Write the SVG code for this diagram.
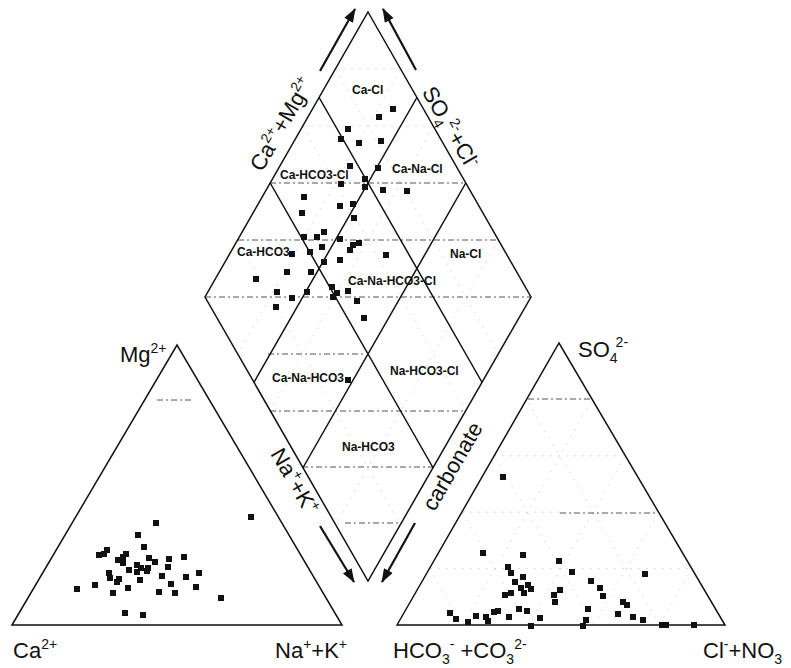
<svg xmlns="http://www.w3.org/2000/svg" xmlns:xlink="http://www.w3.org/1999/xlink" width="791" height="668" viewBox="0 0 791 668">
<style>
.edge{fill:none;stroke:#111;stroke-width:1.5;stroke-linejoin:miter}
.hd{fill:none;stroke:#555;stroke-width:1;stroke-dasharray:6 3 2 3}
.fg{fill:none;stroke:#d2d2d2;stroke-width:0.8;stroke-dasharray:2 6}
.ax{font-family:"Liberation Sans",Arial,sans-serif;font-size:22px;fill:#111}
.rg{font-family:"Liberation Sans",Arial,sans-serif;font-size:12px;font-weight:bold;fill:#111}
.arr{fill:none;stroke:#111;stroke-width:2.2;marker-end:url(#ah)}
use{fill:#111}
</style>
<defs>
<rect id="p" x="-3" y="-3" width="6" height="6"/>
<marker id="ah" viewBox="0 0 14 10" refX="13" refY="5" markerWidth="15" markerHeight="10" markerUnits="userSpaceOnUse" orient="auto"><path d="M0,0 L14,5 L0,10 z" fill="#111"/></marker>
</defs>
<rect width="791" height="668" fill="#fff"/>

<g id="diamond">
<path class="fg" d="M335.4,69 L498.4,354 M302.8,126 L465.8,411 M237.6,240 L400.6,525 M400.6,69 L237.6,354 M433.2,126 L270.2,411 M498.4,240 L335.4,525 M335,69 L401,69 M303,126 L433,126"/>
<path class="hd" d="M270,183 L466,183 M238,240 L498,240 M205,297 L531,297 M268,354 L365,354 M270,411 L466,411 M302,467 L434,467 M345,523 L398,523"/>
<path class="edge" d="M368,12 L531,297 L368,581 L205,297 Z"/>
<path class="edge" d="M319.1,97.5 L482.1,382.5 M270.2,183 L433.2,468 M416.9,97.5 L253.9,382.5 M465.8,183 L302.8,468"/>
<text class="rg" x="352" y="94">Ca-Cl</text>
<text class="rg" x="280" y="179">Ca-HCO3-Cl</text>
<text class="rg" x="392" y="173">Ca-Na-Cl</text>
<text class="rg" x="237" y="256">Ca-HCO3</text>
<text class="rg" x="450" y="258">Na-Cl</text>
<text class="rg" x="348" y="285">Ca-Na-HCO3-Cl</text>
<text class="rg" x="272" y="382">Ca-Na-HCO3</text>
<text class="rg" x="390" y="375">Na-HCO3-Cl</text>
<text class="rg" x="342" y="451">Na-HCO3</text>
<g id="diamond-points">
<use href="#p" x="393" y="109"/><use href="#p" x="379" y="117"/><use href="#p" x="348" y="129"/><use href="#p" x="341" y="139"/><use href="#p" x="359" y="143"/><use href="#p" x="381" y="141"/><use href="#p" x="350" y="166"/><use href="#p" x="378" y="168"/><use href="#p" x="365" y="179"/><use href="#p" x="365" y="187"/><use href="#p" x="341" y="184"/><use href="#p" x="383" y="190"/><use href="#p" x="407" y="191"/><use href="#p" x="304" y="197"/><use href="#p" x="340" y="206"/><use href="#p" x="353" y="204"/><use href="#p" x="302" y="213"/><use href="#p" x="354" y="218"/><use href="#p" x="324" y="232"/><use href="#p" x="304" y="237"/><use href="#p" x="317" y="237"/><use href="#p" x="340" y="239"/><use href="#p" x="353" y="245"/><use href="#p" x="359" y="243"/><use href="#p" x="350" y="250"/><use href="#p" x="322" y="247"/><use href="#p" x="310" y="252"/><use href="#p" x="292" y="254"/><use href="#p" x="386" y="255"/><use href="#p" x="340" y="260"/><use href="#p" x="324" y="262"/><use href="#p" x="287" y="272"/><use href="#p" x="311" y="272"/><use href="#p" x="256" y="279"/><use href="#p" x="332" y="287"/><use href="#p" x="337" y="293"/><use href="#p" x="348" y="291"/><use href="#p" x="333" y="297"/><use href="#p" x="277" y="292"/><use href="#p" x="292" y="298"/><use href="#p" x="307" y="292"/><use href="#p" x="357" y="301"/><use href="#p" x="276" y="307"/><use href="#p" x="364" y="318"/><use href="#p" x="348" y="380"/>
</g>
</g>

<g id="cation-triangle">
<path class="hd" d="M157,400 L193,400"/>
<path class="edge" d="M12,625 L177,345 L342,625 Z"/>
<g id="cation-points">
<use href="#p" x="251" y="517"/><use href="#p" x="156" y="523"/><use href="#p" x="138" y="535"/><use href="#p" x="144" y="547"/><use href="#p" x="107" y="550"/><use href="#p" x="99" y="555"/><use href="#p" x="104" y="554"/><use href="#p" x="126" y="554"/><use href="#p" x="123" y="557"/><use href="#p" x="118" y="560"/><use href="#p" x="123" y="563"/><use href="#p" x="149" y="558"/><use href="#p" x="155" y="562"/><use href="#p" x="169" y="559"/><use href="#p" x="184" y="557"/><use href="#p" x="137" y="565"/><use href="#p" x="141" y="568"/><use href="#p" x="148" y="568"/><use href="#p" x="168" y="567"/><use href="#p" x="129" y="570"/><use href="#p" x="137" y="572"/><use href="#p" x="147" y="571"/><use href="#p" x="199" y="573"/><use href="#p" x="109" y="573"/><use href="#p" x="110" y="578"/><use href="#p" x="119" y="579"/><use href="#p" x="117" y="582"/><use href="#p" x="162" y="576"/><use href="#p" x="186" y="577"/><use href="#p" x="140" y="580"/><use href="#p" x="95" y="585"/><use href="#p" x="171" y="584"/><use href="#p" x="196" y="587"/><use href="#p" x="77" y="589"/><use href="#p" x="128" y="588"/><use href="#p" x="159" y="592"/><use href="#p" x="175" y="593"/><use href="#p" x="113" y="593"/><use href="#p" x="221" y="598"/><use href="#p" x="125" y="613"/><use href="#p" x="143" y="615"/>
</g>
<text class="ax" x="120" y="362">Mg<tspan font-size="14" dy="-9">2+</tspan></text>
<text class="ax" x="13" y="658">Ca<tspan font-size="14" dy="-9">2+</tspan></text>
<text class="ax" x="275" y="658">Na<tspan font-size="14" dy="-9">+</tspan><tspan dy="9">+K</tspan><tspan font-size="14" dy="-9">+</tspan></text>
</g>

<g id="anion-triangle">
<path class="fg" d="M462.6,625 L592.2,399.4 M528.2,625 L625.4,455.8 M593.8,625 L658.6,512.2 M659.4,625 L691.8,568.6 M462.6,625 L429.4,568.6 M528.2,625 L461.8,512.2 M593.8,625 L494.2,455.8 M659.4,625 L526.6,399.4 M430,568.6 L692,568.6 M494,455.8 L625,455.8 M462,512.2 L560,512.2"/>
<path class="hd" d="M528,399 L592,399 M560,513 L657,513"/>
<path class="edge" d="M397,625 L559,343 L725,625 Z"/>
<g id="anion-points">
<use href="#p" x="503" y="477"/><use href="#p" x="483" y="553"/><use href="#p" x="523" y="555"/><use href="#p" x="559" y="561"/><use href="#p" x="508" y="567"/><use href="#p" x="511" y="573"/><use href="#p" x="572" y="572"/><use href="#p" x="645" y="574"/><use href="#p" x="523" y="577"/><use href="#p" x="515" y="582"/><use href="#p" x="591" y="581"/><use href="#p" x="528" y="585"/><use href="#p" x="521" y="588"/><use href="#p" x="531" y="589"/><use href="#p" x="600" y="588"/><use href="#p" x="524" y="593"/><use href="#p" x="560" y="590"/><use href="#p" x="511" y="593"/><use href="#p" x="505" y="595"/><use href="#p" x="603" y="596"/><use href="#p" x="554" y="595"/><use href="#p" x="555" y="602"/><use href="#p" x="623" y="602"/><use href="#p" x="627" y="605"/><use href="#p" x="498" y="611"/><use href="#p" x="494" y="612"/><use href="#p" x="519" y="609"/><use href="#p" x="527" y="611"/><use href="#p" x="588" y="609"/><use href="#p" x="450" y="613"/><use href="#p" x="618" y="614"/><use href="#p" x="476" y="616"/><use href="#p" x="486" y="617"/><use href="#p" x="509" y="617"/><use href="#p" x="456" y="619"/><use href="#p" x="633" y="617"/><use href="#p" x="540" y="618"/><use href="#p" x="643" y="620"/><use href="#p" x="468" y="622"/><use href="#p" x="488" y="621"/><use href="#p" x="586" y="620"/><use href="#p" x="531" y="626"/><use href="#p" x="583" y="626"/><use href="#p" x="662" y="625"/><use href="#p" x="666" y="625"/><use href="#p" x="694" y="625"/>
</g>
<text class="ax" x="578" y="357">SO<tspan font-size="14" dy="6">4</tspan><tspan font-size="14" dx="-2" dy="-16">2-</tspan></text>
<text class="ax" x="393" y="658">HCO<tspan font-size="14" dy="6">3</tspan><tspan font-size="14" dy="-15">-</tspan><tspan dy="9"> +CO</tspan><tspan font-size="14" dy="6">3</tspan><tspan font-size="14" dy="-15">2-</tspan></text>
<text class="ax" x="703" y="658">Cl<tspan font-size="14" dy="-9">-</tspan><tspan dy="9">+NO</tspan><tspan font-size="14" dy="6">3</tspan></text>
</g>

<g id="axis-labels">
<text class="ax" text-anchor="middle" transform="translate(281,124) rotate(-60)" y="8">Ca<tspan font-size="14" dy="-9">2+</tspan><tspan dy="9">+Mg</tspan><tspan font-size="14" dy="-9">2+</tspan></text>
<text class="ax" text-anchor="middle" transform="translate(451,127) rotate(60)" y="8">SO<tspan font-size="14" dy="6">4</tspan><tspan font-size="14" dy="-15">2-</tspan><tspan dy="9">+Cl</tspan><tspan font-size="14" dy="-9">-</tspan></text>
<text class="ax" text-anchor="middle" transform="translate(295,481) rotate(60)" y="8">Na<tspan font-size="14" dy="-9">+</tspan><tspan dy="9">+K</tspan><tspan font-size="14" dy="-9">+</tspan></text>
<text class="ax" text-anchor="middle" transform="translate(452,466) rotate(-60)" y="8">carbonate</text>
</g>

<g id="connectors">
<line class="arr" x1="320" y1="71" x2="355" y2="9"/>
<line class="arr" x1="416" y1="70" x2="383" y2="9"/>
<line class="arr" x1="320" y1="526" x2="354" y2="582"/>
<line class="arr" x1="415" y1="523" x2="382" y2="582"/>
</g>
</svg>
